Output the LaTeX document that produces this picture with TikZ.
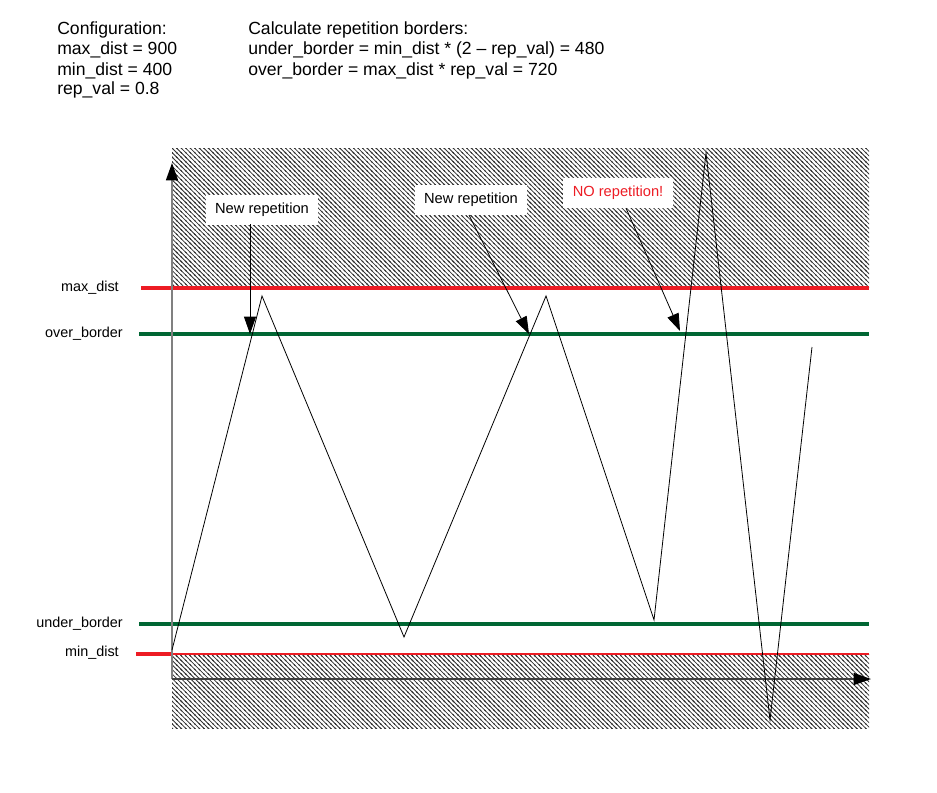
\documentclass[tikz,border=0pt]{standalone}
\usepackage{fontspec}
\setmainfont{Liberation Sans}
\usetikzlibrary{patterns,arrows.meta}
\definecolor{myred}{RGB}{237,28,36}
\definecolor{mygreen}{RGB}{0,102,51}
\definecolor{hatchgray}{RGB}{50,50,50}
\pgfdeclarepatternformonly{mynwlines}{\pgfqpoint{-1pt}{-1pt}}{\pgfqpoint{4pt}{4pt}}{\pgfqpoint{3.4pt}{3.4pt}}%
{
  \pgfsetlinewidth{0.6pt}
  \pgfpathmoveto{\pgfqpoint{0pt}{3.4pt}}
  \pgfpathlineto{\pgfqpoint{3.5pt}{-0.1pt}}
  \pgfpathmoveto{\pgfqpoint{-0.5pt}{0.5pt}}
  \pgfpathlineto{\pgfqpoint{0.5pt}{-0.5pt}}
  \pgfpathmoveto{\pgfqpoint{2.9pt}{3.9pt}}
  \pgfpathlineto{\pgfqpoint{3.9pt}{2.9pt}}
  \pgfusepath{stroke}
}
\tikzset{
  hatch/.style={pattern=mynwlines, pattern color=hatchgray},
  redline/.style={draw=myred, line width=2.4pt},
  greenline/.style={draw=mygreen, line width=2.4pt},
  axis/.style={draw=gray, line width=1.1pt, -{Triangle[length=13pt,width=9pt,color=black]}},
  bigarrow/.style={draw=black, line width=0.6pt, -{Triangle[length=13pt,width=9pt]}},
  zig/.style={draw=black, line width=0.6pt},
  conf/.style={font=\fontsize{13.2pt}{15pt}\selectfont, anchor=base west, inner sep=0pt},
  lbl/.style={font=\fontsize{10.8pt}{12pt}\selectfont, anchor=east, inner sep=0pt},
  callout/.style={fill=white, font=\fontsize{11pt}{13pt}\selectfont, inner xsep=7pt, inner ysep=6pt}
}
\begin{document}
\begin{tikzpicture}[x=0.75pt,y=-0.75pt]
\useasboundingbox (0,0) rectangle (937,792);
% hatched regions
\fill[hatch] (172,148) rectangle (869,288);
\fill[hatch] (172,654) rectangle (869,728);
% config text
\node[conf] (c1) at (57,35) {Configuration:};
\node[conf] (c2) at (57,55) {max\_dist = 900};
\node[conf] (c3) at (57,75) {min\_dist = 400};
\node[conf] (c4) at (57,94) {rep\_val = 0.8};
\node[conf] (b1) at (248,35) {Calculate repetition borders:};
\node[conf] (b2) at (248,55) {under\_border = min\_dist * (2 – rep\_val) = 480};
\node[conf] (b3) at (248,75) {over\_border = max\_dist * rep\_val = 720};
% level lines
\coordinate (maxL) at (141,288); \coordinate (maxR) at (869,288);
\coordinate (ovL) at (139,334); \coordinate (ovR) at (869,334);
\coordinate (unL) at (139,624); \coordinate (unR) at (869,624);
\coordinate (minL) at (136,654); \coordinate (minM) at (172,654); \coordinate (minR) at (869,654);
\draw[redline] (maxL) -- (maxR);
\draw[greenline] (ovL) -- (ovR);
\draw[greenline] (unL) -- (unR);
\draw[redline] (minL) -- (minM);
\draw[draw=myred, line width=0.9pt] (minM) -- (minR);
% labels
\node[lbl] (lmax) at (119,288) {max\_dist};
\node[lbl] (lov) at (123,334) {over\_border};
\node[lbl] (lun) at (123,624) {under\_border};
\node[lbl] (lmin) at (119,653) {min\_dist};
% axes
\coordinate (O) at (172,679);
\coordinate (ytop) at (172,163);
\coordinate (xend) at (871,679);
\draw[axis] (O) -- (ytop);
\draw[axis, draw=darkgray] (O) -- (xend);
% zigzag
\coordinate (p0) at (172,650);
\coordinate (p1) at (262,296);
\coordinate (p2) at (404,637);
\coordinate (p3) at (546,296);
\coordinate (p4) at (654,620);
\coordinate (p5) at (706,153);
\coordinate (p6) at (770,720);
\coordinate (p7) at (812,347);
\draw[zig] (p0) -- (p1) -- (p2) -- (p3) -- (p4) -- (p5) -- (p6) -- (p7);
% callouts
\node[callout] (n1) at (262,210) {New repetition};
\node[callout] (n2) at (471,200) {New repetition};
\node[callout, text=myred] (n3) at (618,193) {NO repetition!};
\coordinate (a1) at (250,334);
\coordinate (a2) at (529,334);
\coordinate (a3) at (680,331);
\draw[bigarrow] (250,224) -- (a1);
\draw[bigarrow] (n2.south) ++(-2,0) -- (a2);
\draw[bigarrow] (n3.south) ++(8,0) -- (a3);
\end{tikzpicture}
\end{document}
